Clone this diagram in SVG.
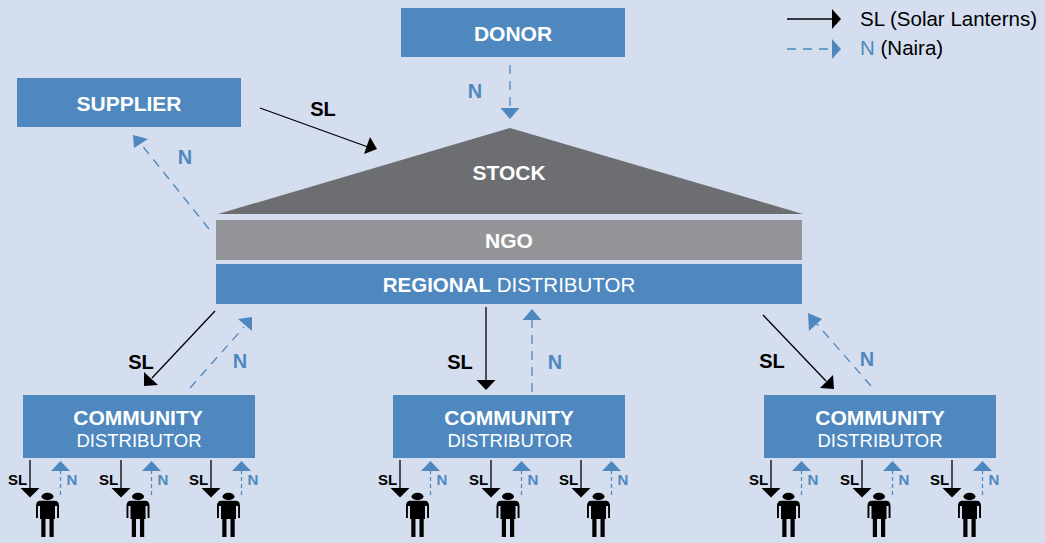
<svg xmlns="http://www.w3.org/2000/svg" width="1045" height="543" viewBox="0 0 1045 543">
<style>
text{font-family:"Liberation Sans",Arial,sans-serif;text-anchor:middle}
.box{fill:#4e88bf}
.w{fill:#fff;font-size:21px}
.r{font-size:20.500px}
.d{font-size:18.500px}
.b{font-weight:700}
.sl{fill:none;stroke:#000;stroke-width:1.300}
.n{fill:none;stroke:#4e88bf;stroke-width:1.300;stroke-dasharray:9 7}
.ns{stroke-dasharray:4 3;stroke-width:1.200}
.ah{fill:#000}
.bh{fill:#4e88bf}
.lb{fill:#000;font-weight:700;font-size:20px}
.ln{fill:#4e88bf;font-weight:700;font-size:20px}
.sb{fill:#000;font-weight:700;font-size:15px}
.sn{fill:#4e88bf;font-weight:700;font-size:15px}
.lg{font-size:20.500px;text-anchor:start}
</style>
<defs>
<g id="person">
<ellipse cx="0" cy="-40.500" rx="6" ry="3.700" fill="#000"/>
<path fill="#000" d="M-7-36.300H7Q11.500-36.300 11.500-31V-19H9.600V-31H7.500V-18H6.200V0H2V-18H-2V0H-6.200V-18H-7.500V-31H-9.600V-19H-11.500V-31Q-11.500-36.300-7-36.300Z"/>
</g>
<g id="drop">
<path class="sl" d="M0 0V29"/>
<path class="ah" d="M-9.500 28H9.500L0 37.500Z"/>
<text class="sb" x="-12.500" y="25">SL</text>
<path class="n ns" d="M30.500 35V11"/>
<path class="bh" d="M21 11H40L30.500 1Z"/>
<text class="sn" x="42" y="25">N</text>
</g>
</defs>
<rect width="1045" height="543" fill="#d4deee"/>
<g id="donor"><rect class="box" x="401" y="8" width="224" height="49"/><text class="w b" x="513" y="41">DONOR</text></g>
<g id="supplier"><rect class="box" x="17" y="78" width="224" height="49"/><text class="w b" x="129" y="111">SUPPLIER</text></g>
<g id="stock"><path fill="#6d6e71" d="M218 214L510 128L803 214Z"/><text class="w b" x="509" y="180">STOCK</text></g>
<g id="ngo"><rect fill="#939598" x="216" y="220" width="586" height="40"/><text class="w b" x="509" y="248">NGO</text></g>
<g id="regional-distributor"><rect class="box" x="216" y="264" width="586" height="40"/><text class="w r" x="509" y="292"><tspan class="b">REGIONAL</tspan> DISTRIBUTOR</text></g>
<g id="community-1"><rect class="box" x="23" y="395" width="232" height="63"/><text class="w b" x="138" y="425">COMMUNITY</text><text class="w d" x="139" y="447">DISTRIBUTOR</text></g>
<g id="community-2"><rect class="box" x="393" y="395" width="232" height="63"/><text class="w b" x="509" y="425">COMMUNITY</text><text class="w d" x="510" y="447">DISTRIBUTOR</text></g>
<g id="community-3"><rect class="box" x="764" y="395" width="232" height="63"/><text class="w b" x="880" y="425">COMMUNITY</text><text class="w d" x="880" y="447">DISTRIBUTOR</text></g>
<g id="people">
<use href="#person" x="47.500" y="537"/><use href="#person" x="138" y="537"/><use href="#person" x="228.500" y="537"/>
<use href="#person" x="417.500" y="537"/><use href="#person" x="508" y="537"/><use href="#person" x="598.500" y="537"/>
<use href="#person" x="788.500" y="537"/><use href="#person" x="879" y="537"/><use href="#person" x="969.500" y="537"/>
</g>
<g id="connectors">
<path class="n" d="M510 65V110"/><path class="bh" d="M500.500 108H519.500L510 119Z"/>
<path class="sl" d="M260 108L368 147"/><path class="ah" d="M377 149L364 154L370 137Z"/>
<path class="n" d="M209 229L141 144"/><path class="bh" d="M133 135L148 139L134 148Z"/>
<path class="sl" d="M215 311L152 378"/><path class="ah" d="M144 386L144 372L158 385Z"/>
<path class="n" d="M190 388L244 327"/><path class="bh" d="M252 317L252 331L238 319Z"/>
<path class="sl" d="M486 307V381"/><path class="ah" d="M476.500 380H495.500L486 390Z"/>
<path class="n" d="M532 392V320"/><path class="bh" d="M522.500 320H541.500L532 309Z"/>
<path class="sl" d="M763 315L826 381"/><path class="ah" d="M834 389L820 388L833 375Z"/>
<path class="n" d="M871 386L816 323"/><path class="bh" d="M808 313L822 319L809 331Z"/>
<use href="#drop" x="30" y="460"/><use href="#drop" x="121" y="460"/><use href="#drop" x="211" y="460"/>
<use href="#drop" x="400" y="460"/><use href="#drop" x="491" y="460"/><use href="#drop" x="581" y="460"/>
<use href="#drop" x="771" y="460"/><use href="#drop" x="862" y="460"/><use href="#drop" x="952" y="460"/>
<path class="sl" d="M787 19H834"/><path class="ah" d="M832 9L841 19L832 29Z"/>
<path class="n" d="M787 49H834"/><path class="bh" d="M832 39L841 49L832 59Z"/>
</g>
<g id="labels">
<text class="ln" x="475" y="98">N</text>
<text class="lb" x="323" y="116">SL</text>
<text class="ln" x="185" y="164">N</text>
<text class="lb" x="141" y="369">SL</text>
<text class="ln" x="240" y="368">N</text>
<text class="lb" x="460" y="369">SL</text>
<text class="ln" x="555" y="369">N</text>
<text class="lb" x="772" y="368">SL</text>
<text class="ln" x="867" y="366">N</text>
</g>
<g id="legend">
<text class="lg" x="860" y="26" fill="#000">SL (Solar Lanterns)</text>
<text class="lg" x="860" y="55" fill="#000"><tspan fill="#4e88bf">N</tspan> (Naira)</text>
</g>
</svg>
